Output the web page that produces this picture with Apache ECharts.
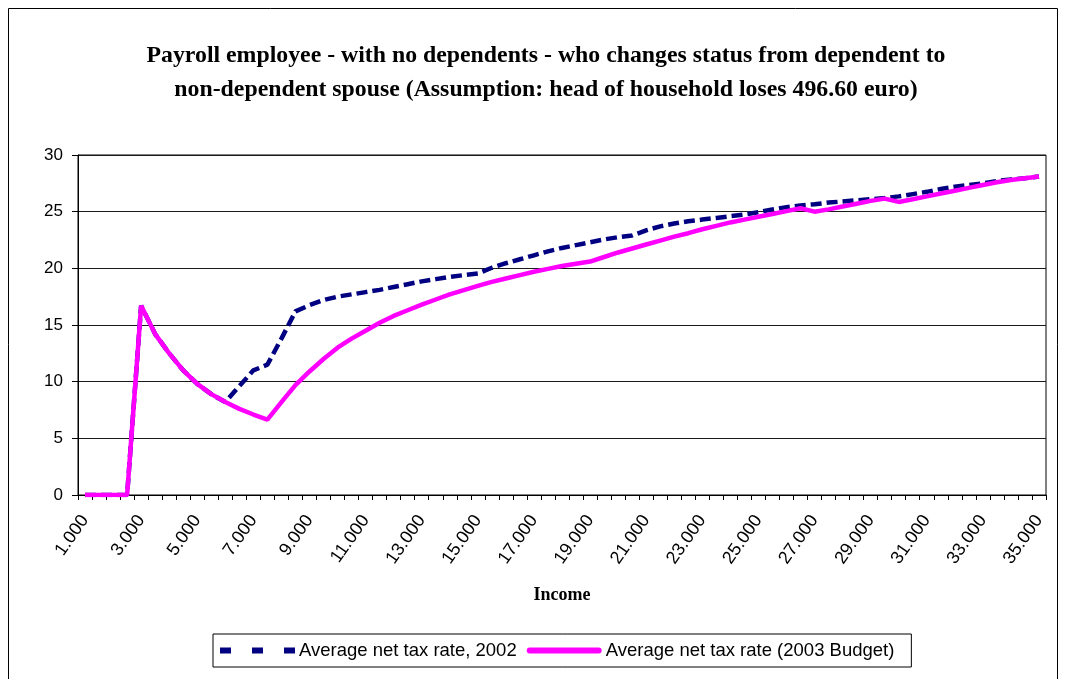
<!DOCTYPE html>
<html>
<head>
<meta charset="utf-8">
<title>Average net tax rate</title>
<script src="https://cdn.jsdelivr.net/npm/echarts@6/dist/echarts.min.js"></script>
<style>
  html, body { margin: 0; padding: 0; background: #ffffff; }
  #chart { width: 1065px; height: 679px; }
</style>
</head>
<body>
<div id="chart"></div>
<script>
// Income levels (euro), one category every 500
const incomes = [
  '1.000', '1.500', '2.000', '2.500', '3.000', '3.500', '4.000', '4.500', '5.000', '5.500',
  '6.000', '6.500', '7.000', '7.500', '8.000', '8.500', '9.000', '9.500', '10.000', '10.500',
  '11.000', '11.500', '12.000', '12.500', '13.000', '13.500', '14.000', '14.500', '15.000', '15.500',
  '16.000', '16.500', '17.000', '17.500', '18.000', '18.500', '19.000', '19.500', '20.000', '20.500',
  '21.000', '21.500', '22.000', '22.500', '23.000', '23.500', '24.000', '24.500', '25.000', '25.500',
  '26.000', '26.500', '27.000', '27.500', '28.000', '28.500', '29.000', '29.500', '30.000', '30.500',
  '31.000', '31.500', '32.000', '32.500', '33.000', '33.500', '34.000', '34.500', '35.000'
];

// Average net tax rate, 2002 (%)
const rate2002 = [
  0, 0, 0, 0, 16.7, 14.2, 12.5, 11.0, 9.8, 8.9,
  8.2, 9.6, 11.0, 11.5, 13.8, 16.2, 16.75, 17.2, 17.5, 17.7,
  17.9, 18.1, 18.35, 18.6, 18.85, 19.05, 19.25, 19.4, 19.55, 20.05,
  20.45, 20.8, 21.15, 21.5, 21.8, 22.05, 22.3, 22.55, 22.75, 22.9,
  23.35, 23.7, 23.95, 24.15, 24.3, 24.45, 24.6, 24.75, 24.95, 25.2,
  25.4, 25.55, 25.65, 25.8, 25.9, 26.0, 26.1, 26.2, 26.35, 26.55,
  26.75, 27.0, 27.2, 27.35, 27.5, 27.7, 27.85, 27.95, 28.1
];

// Average net tax rate under the 2003 Budget (%)
const rate2003 = [
  0, 0, 0, 0, 16.7, 14.2, 12.5, 11.0, 9.8, 8.9,
  8.2, 7.6, 7.1, 6.65, 8.2, 9.7, 10.9, 12.0, 13.0, 13.8,
  14.5, 15.2, 15.8, 16.3, 16.8, 17.25, 17.7, 18.07, 18.45, 18.8,
  19.1, 19.4, 19.7, 19.95, 20.2, 20.4, 20.6, 21.0, 21.4, 21.75,
  22.1, 22.45, 22.8, 23.1, 23.45, 23.75, 24.05, 24.3, 24.55, 24.8,
  25.05, 25.3, 25.0, 25.2, 25.45, 25.7, 25.95, 26.15, 25.86, 26.1,
  26.35, 26.6, 26.85, 27.1, 27.35, 27.6, 27.8, 27.95, 28.1
];

const seriesNames = ['Average net tax rate, 2002', 'Average net tax rate (2003 Budget)'];

const chart = echarts.init(document.getElementById('chart'), null, { renderer: 'canvas' });

const serif = '"Liberation Serif", "Times New Roman", serif';
const sans = '"Liberation Sans", Arial, sans-serif';

chart.setOption({
  backgroundColor: '#ffffff',
  animation: false,
  title: {
    text: 'Payroll employee - with no dependents - who changes status from dependent to\nnon-dependent spouse (Assumption: head of household loses 496.60 euro)',
    left: 541,
    top: 34,
    textAlign: 'center',
    textStyle: {
      fontFamily: serif,
      fontWeight: 'bold',
      fontSize: 23.8,
      lineHeight: 34,
      color: '#000000'
    }
  },
  graphic: [{
    type: 'rect',
    silent: true,
    shape: { x: 8.5, y: 8.5, width: 1049, height: 700 },
    style: { fill: 'none', stroke: '#000000', lineWidth: 1 }
  }],
  legend: {
    left: 213,
    top: 634,
    orient: 'horizontal',
    padding: [7, 17, 7, 7],
    itemGap: 10,
    itemWidth: 75,
    itemHeight: 6,
    borderColor: '#000000',
    borderWidth: 1,
    textStyle: { fontFamily: sans, fontSize: 18.5, color: '#000000', padding: [0, 0, 0, -1] },
    data: [
      {
        name: seriesNames[0],
        icon: 'path://M0,0h11v6h-11zM32,0h11v6h-11zM64,0h11v6h-11z',
        itemStyle: { color: '#000080' }
      },
      {
        name: seriesNames[1],
        icon: 'path://M3,0h69a3,3 0 0 1 0,6h-69a3,3 0 0 1 0,-6z',
        itemStyle: { color: '#FF00FF' }
      }
    ]
  },
  grid: {
    left: 78,
    right: 19,
    top: 155,
    bottom: 184,
    show: true,
    borderColor: '#000000',
    borderWidth: 1,
    backgroundColor: '#ffffff'
  },
  xAxis: {
    type: 'category',
    data: incomes,
    boundaryGap: true,
    name: 'Income',
    nameLocation: 'middle',
    nameGap: 91,
    nameTextStyle: { fontFamily: serif, fontWeight: 'bold', fontSize: 18, color: '#000000' },
    axisLine: { lineStyle: { color: '#000000', width: 1 } },
    axisTick: { show: true, interval: 0, length: 5, lineStyle: { color: '#000000' } },
    axisLabel: {
      interval: 3,
      rotate: 55,
      margin: 22,
      fontFamily: sans,
      fontSize: 18,
      color: '#000000'
    },
    splitLine: { show: false }
  },
  yAxis: {
    type: 'value',
    min: 0,
    max: 30,
    interval: 5,
    axisLine: { show: true, lineStyle: { color: '#000000', width: 1 } },
    axisTick: { show: true, length: 6, lineStyle: { color: '#000000' } },
    axisLabel: { margin: 15, fontFamily: sans, fontSize: 17, color: '#000000' },
    splitLine: { show: true, lineStyle: { color: '#1a1a1a', width: 1 } }
  },
  series: [
    {
      name: seriesNames[0],
      type: 'line',
      data: rate2002,
      color: '#000080',
      showSymbol: false,
      symbol: 'none',
      lineStyle: { color: '#000080', width: 4.5, type: [11, 5], cap: 'butt', join: 'bevel' },
      z: 2
    },
    {
      name: seriesNames[1],
      type: 'line',
      data: rate2003,
      color: '#FF00FF',
      showSymbol: false,
      symbol: 'none',
      lineStyle: { color: '#FF00FF', width: 4.5, type: 'solid' },
      z: 3
    }
  ]
});
</script>
</body>
</html>
